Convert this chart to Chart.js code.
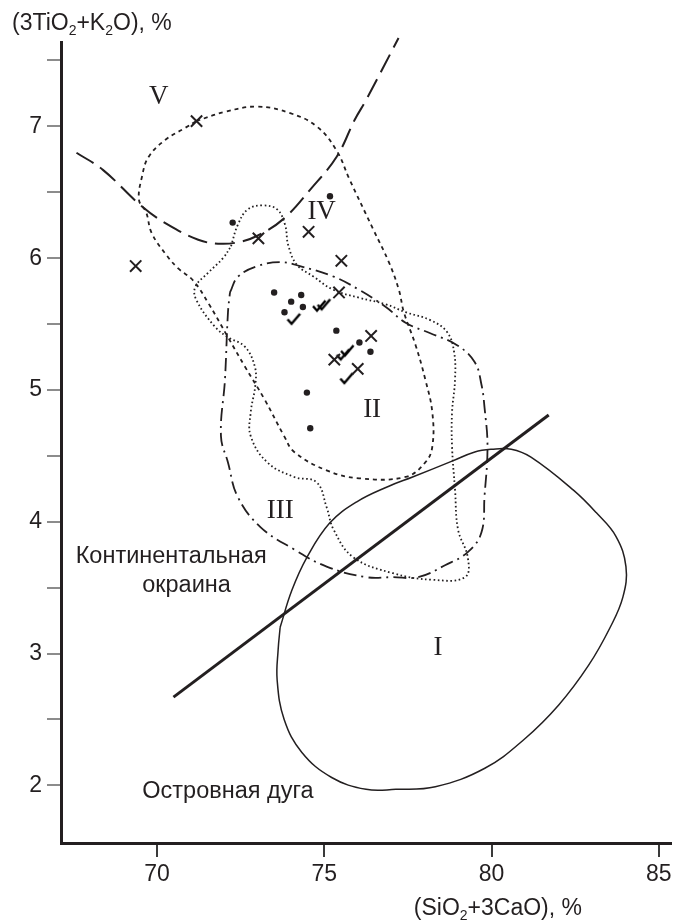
<!DOCTYPE html>
<html><head><meta charset="utf-8">
<script src="https://cdn.jsdelivr.net/npm/chart.js@4/dist/chart.umd.min.js"></script>
<style>html,body{margin:0;padding:0;background:#fff;overflow:hidden;}#wrap{width:681px;height:921px;position:relative;overflow:hidden;}canvas{display:block;}</style>
</head><body><div id="wrap"><canvas id="c" width="681" height="921" style="width:681px;height:921px"></canvas></div>
<script>
// ---------- data (x = SiO2+3CaO, y = 3TiO2+K2O) ----------
const xTicks = [70, 75, 80, 85];
const yTicks = [2, 2.5, 3, 3.5, 4, 4.5, 5, 5.5, 6, 6.5, 7, 7.5];

const dots = [[75.17,6.47],[72.26,6.27],[73.50,5.74],[74.01,5.67],[74.31,5.72],[73.81,5.59],[74.36,5.63],[75.36,5.45],[76.05,5.36],[76.38,5.29],[74.48,4.98],[74.58,4.71]];
const crosses = [[71.18,7.04],[73.03,6.15],[74.53,6.20],[69.36,5.94],[75.51,5.98],[75.44,5.74],[76.40,5.41],[75.30,5.23],[76.00,5.16]];
const checks = [[74.84,5.64],[74.98,5.65],[74.08,5.54],[75.55,5.27],[75.68,5.30],[75.66,5.09]];

// field I (solid)
const fieldI = [[73.68,3.20],[74.03,3.48],[74.48,3.73],[75.16,3.99],[75.96,4.15],[76.93,4.27],[77.64,4.34],[78.82,4.46],[79.50,4.53],[80.00,4.55],[80.59,4.55],[81.18,4.49],[82.45,4.24],[83.13,4.07],[83.72,3.89],[84.02,3.66],[83.93,3.43],[83.55,3.20],[82.90,2.91],[82.01,2.61],[80.98,2.35],[79.80,2.13],[78.32,1.99],[77.14,1.97],[76.25,1.97],[75.22,2.06],[74.33,2.25],[73.80,2.50],[73.59,2.80],[73.62,3.03]];
// field III (dash-dot)
const fieldIII = [[72.18,5.74],[72.42,5.86],[73.00,5.94],[73.68,5.97],[74.27,5.94],[75.28,5.86],[76.04,5.76],[76.84,5.63],[77.43,5.51],[78.17,5.43],[78.97,5.34],[79.50,5.21],[79.70,5.04],[79.79,4.87],[79.88,4.57],[79.79,4.19],[79.70,3.92],[79.29,3.77],[78.61,3.67],[77.81,3.58],[77.05,3.58],[76.25,3.58],[75.07,3.66],[74.10,3.79],[73.09,3.96],[72.41,4.19],[72.12,4.45],[71.91,4.65],[72.03,5.08],[72.12,5.59]];
// field (fine dots)
const fieldDot = [[72.21,6.09],[72.41,6.25],[72.71,6.37],[73.15,6.40],[73.59,6.37],[73.83,6.25],[73.92,6.10],[74.18,5.95],[74.68,5.86],[75.27,5.76],[76.04,5.70],[76.84,5.65],[77.43,5.59],[78.17,5.53],[78.67,5.44],[78.88,5.29],[78.91,5.08],[78.82,4.83],[78.82,4.57],[78.91,4.24],[79.00,3.94],[79.29,3.73],[79.21,3.58],[78.23,3.56],[77.05,3.61],[75.87,3.73],[75.28,3.94],[75.07,4.11],[74.77,4.30],[74.10,4.34],[73.30,4.45],[72.80,4.65],[72.80,4.83],[72.94,5.04],[72.92,5.18],[72.62,5.33],[72.12,5.40],[71.73,5.48],[71.18,5.68],[71.14,5.78],[71.53,5.89],[71.97,6.00]];
// field (short dashes)
const fieldDash = [[71.17,7.04],[72.03,7.11],[73.00,7.15],[73.98,7.10],[74.77,7.00],[75.36,6.82],[75.75,6.60],[76.46,6.22],[76.93,5.97],[77.23,5.76],[77.38,5.59],[77.73,5.34],[78.02,5.08],[78.23,4.83],[78.23,4.57],[78.02,4.45],[77.43,4.34],[76.04,4.33],[75.07,4.39],[74.10,4.53],[73.80,4.65],[73.21,4.93],[72.62,5.18],[72.12,5.40],[71.53,5.66],[71.08,5.83],[70.64,5.92],[70.29,6.02],[69.84,6.19],[69.67,6.35],[69.46,6.44],[69.55,6.62],[69.75,6.77],[70.26,6.90],[70.85,6.99]];
// boundary of field V (long dashes, open)
const boundV = [[67.59,6.80],[68.38,6.67],[69.56,6.39],[70.35,6.25],[71.23,6.14],[71.82,6.11],[72.41,6.12],[73.00,6.17],[73.79,6.30],[74.58,6.52],[75.37,6.77],[75.91,7.05],[76.25,7.20],[77.22,7.67]];
// island arc / continental margin divider
const divider = [[70.49,2.67],[81.71,4.81]];

const fieldNames = ['V','IV','II','III','I'];
const fieldNameX = [70.05, 74.92, 76.43, 73.68, 78.40];
const fieldNameY = [7.225, 6.35, 4.85, 4.08, 3.04];
const notes = ['Континентальная','окраина','Островная дуга'];
const noteX = [70.42, 70.88, 72.12];
const noteY = [3.69, 3.47, 1.905];

// ---------- helpers ----------
const INK = '#231f20';
const SANS = '"Liberation Sans", Arial, sans-serif';
const SERIF = '"Liberation Serif", "Times New Roman", serif';
const pts = a => a.map(p => ({x:p[0], y:p[1]}));
const closed = a => pts(a.concat([a[0]]));

function makeCheck(){
  const c = document.createElement('canvas'); c.width = 16; c.height = 16;
  const g = c.getContext('2d');
  g.strokeStyle = '#000'; g.lineWidth = 2.4; g.lineCap = 'butt'; g.lineJoin='miter';
  g.beginPath(); g.moveTo(2,8.5); g.lineTo(6,13); g.lineTo(14.5,3); g.stroke();
  return c;
}

function drawRich(ctx, parts, x, y, align, size){
  const sub = Math.round(size*0.62);
  let w = 0;
  parts.forEach(p => { ctx.font = (p.sub?sub:size)+'px '+SANS; w += ctx.measureText(p.t).width; });
  let cx = align === 'right' ? x - w : x;
  ctx.textAlign = 'left'; ctx.textBaseline = 'alphabetic'; ctx.fillStyle = INK;
  parts.forEach(p => {
    ctx.font = (p.sub?sub:size)+'px '+SANS;
    ctx.fillText(p.t, cx, p.sub ? y + size*0.22 : y);
    cx += ctx.measureText(p.t).width;
  });
}

const labelsPlugin = {
  id: 'labels',
  afterDraw(chart){
    const ctx = chart.ctx, xs = chart.scales.x, ys = chart.scales.y;
    ctx.save();
    ctx.fillStyle = INK;
    ctx.font = '27px ' + SERIF; ctx.textAlign = 'center'; ctx.textBaseline = 'middle';
    fieldNames.forEach((t,i) => ctx.fillText(t, xs.getPixelForValue(fieldNameX[i]), ys.getPixelForValue(fieldNameY[i])));
    ctx.font = '23.5px ' + SANS; ctx.textBaseline = 'alphabetic';
    notes.forEach((t,i) => ctx.fillText(t, xs.getPixelForValue(noteX[i]), ys.getPixelForValue(noteY[i])));
    // axis titles
    drawRich(ctx, [{t:'(3TiO'},{t:'2',sub:true},{t:'+K'},{t:'2',sub:true},{t:'O), %'}], 12, 30, 'left', 23);
    drawRich(ctx, [{t:'(SiO'},{t:'2',sub:true},{t:'+3CaO), %'}], 582, 915, 'right', 23);
    ctx.restore();
  }
};

const lineDs = (data, dash, width, extra) => Object.assign({
  data, showLine:true, borderColor:INK, borderWidth:width, borderDash:dash,
  pointRadius:0, pointHoverRadius:0, tension:0.4, fill:false
}, extra || {});

new Chart(document.getElementById('c'), {
  type: 'scatter',
  data: {
    datasets: [
      lineDs(closed(fieldI), [], 1.5),
      lineDs(closed(fieldIII), [13,5,2,5], 1.8),
      lineDs(closed(fieldDot), [1.6,2.6], 1.8),
      lineDs(closed(fieldDash), [4,4], 1.8),
      lineDs(pts(boundV), [20,8], 2, {clip:false}),
      lineDs(pts(divider), [], 3, {tension:0}),
      {data: pts(dots), pointStyle:'circle', pointRadius:3.2, backgroundColor:INK, borderColor:INK, borderWidth:0},
      {data: pts(crosses), pointStyle:'crossRot', pointRadius:8, borderColor:INK, borderWidth:2},
      {data: pts(checks), pointStyle:makeCheck(), pointRadius:8}
    ]
  },
  options: {
    responsive:false, animation:false, devicePixelRatio:1,
    layout:{padding:{top:42,right:0,left:0,bottom:0}},
    plugins:{legend:{display:false}, tooltip:{enabled:false}},
    events: [],
    scales:{
      x:{
        type:'linear', min:67.127, max:85.367,
        afterBuildTicks: s => { s.ticks = xTicks.map(v => ({value:v})); },
        afterFit: s => { s.height = 78; },
        grid:{drawOnChartArea:false, drawTicks:true, tickLength:14, color:'#3a3a3a', lineWidth:2},
        border:{color:INK, width:3},
        ticks:{font:{family:SANS, size:23}, color:INK, padding:4, maxRotation:0, autoSkip:false}
      },
      y:{
        type:'linear', min:1.563, max:7.64,
        afterBuildTicks: s => { s.ticks = yTicks.map(v => ({value:v})); },
        afterFit: s => { s.width = 61; },
        grid:{drawOnChartArea:false, drawTicks:true, tickLength:14, color:'#8c8c8c', lineWidth:2},
        border:{color:INK, width:3},
        ticks:{font:{family:SANS, size:23}, color:INK, padding:5, autoSkip:false,
          callback: v => Number.isInteger(v) ? String(v) : ''}
      }
    }
  },
  plugins:[labelsPlugin]
});
</script></body></html>
